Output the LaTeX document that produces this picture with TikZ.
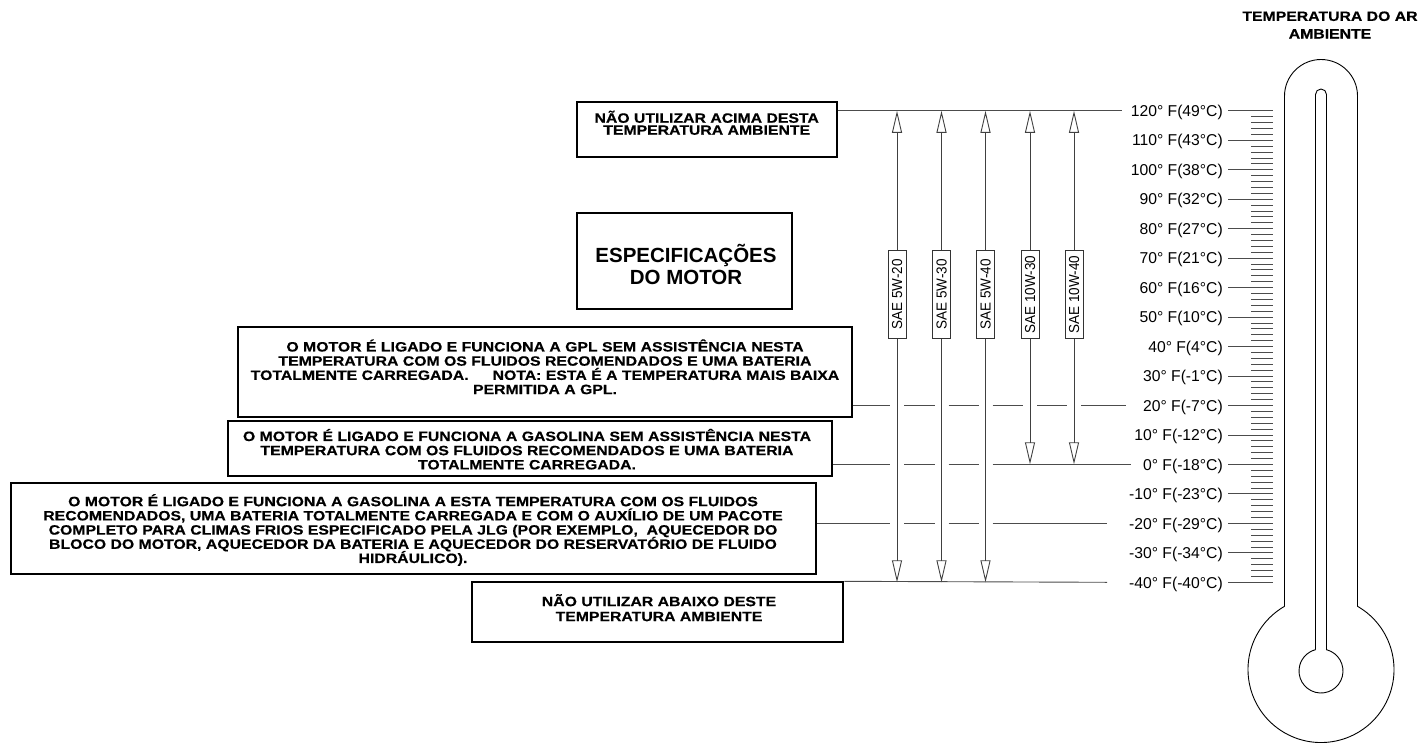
\documentclass[tikz,border=0pt]{standalone}
\usepackage{fontspec}
\setmainfont{Liberation Sans}
\newfontfamily\bfam[FakeStretch=1.17,FakeBold=0.5]{Liberation Sans}
\newfontfamily\cfam[FakeStretch=0.93]{Liberation Sans}
\newfontfamily\rfam{Liberation Sans}
\newcommand\tightls{\lineskiplimit=-20pt\relax}
\usetikzlibrary{arrows.meta,calc}
\begin{document}
\begin{tikzpicture}[x=1pt,y=-1pt,
 box/.style={draw=black,line width=2pt,inner sep=0pt},
 btxt/.style={font={\bfam\bfseries\fontsize{13.5}{14.2}\selectfont\tightls},align=center,inner sep=0pt},
 bigtxt/.style={font={\rfam\bfseries\fontsize{20.5}{21.7}\selectfont\tightls},align=center,inner sep=0pt},
 titletxt/.style={font={\bfam\bfseries\fontsize{13.5}{17.6}\selectfont},align=center,inner sep=0pt},
 sae/.style={draw=black!80,line width=0.8pt,rotate=90,minimum width=88pt,minimum height=18pt,inner sep=0pt,font={\cfam\fontsize{14.5}{15}\selectfont}},
 lbl/.style={font={\rfam\fontsize{15.7}{16}\selectfont},inner sep=0pt,anchor=base east},
 hl/.style={draw=black!70,line width=0.9pt},
 arr/.style={draw=black!75,line width=0.9pt,-{Triangle[open,length=22pt,width=10pt]}},
 tick/.style={draw=black!70,line width=0.9pt},
 thermo/.style={draw=black,line width=0.9pt}]
\useasboundingbox (0,0) rectangle (1421,744);

% boxes
\node[box,minimum width=260pt,minimum height=55.6pt] (A) at (706.7,129.5) {};
\node[box,minimum width=215pt,minimum height=96pt] (B) at (684.2,261.3) {};
\node[box,minimum width=614.3pt,minimum height=90pt] (C) at (544.9,372.3) {};
\node[box,minimum width=604.3pt,minimum height=55pt] (D) at (530,448.5) {};
\node[box,minimum width=805pt,minimum height=91pt] (E) at (413.5,528.8) {};
\node[box,minimum width=371.6pt,minimum height=59.4pt] (F) at (657.5,612) {};

% box texts
\node[btxt,font={\bfam\bfseries\fontsize{13.5}{12}\selectfont\tightls}] (At) at (706.7,122.8) {NÃO UTILIZAR ACIMA DESTA\\TEMPERATURA AMBIENTE};
\node[bigtxt] (Bt) at (686,264.5) {ESPECIFICAÇÕES\\DO MOTOR};
\node[btxt] (Ct) at (545,366.8) {O MOTOR É LIGADO E FUNCIONA A GPL SEM ASSISTÊNCIA NESTA\\TEMPERATURA COM OS FLUIDOS RECOMENDADOS E UMA BATERIA\\TOTALMENTE CARREGADA.\hspace{24pt}NOTA: ESTA É A TEMPERATURA MAIS BAIXA\\PERMITIDA A GPL.};
\node[btxt] (Dt) at (527,449.2) {O MOTOR É LIGADO E FUNCIONA A GASOLINA SEM ASSISTÊNCIA NESTA\\TEMPERATURA COM OS FLUIDOS RECOMENDADOS E UMA BATERIA\\TOTALMENTE CARREGADA.};
\node[btxt] (Et) at (413,530) {O MOTOR É LIGADO E FUNCIONA A GASOLINA A ESTA TEMPERATURA COM OS FLUIDOS\\RECOMENDADOS, UMA BATERIA TOTALMENTE CARREGADA E COM O AUXÍLIO DE UM PACOTE\\COMPLETO PARA CLIMAS FRIOS ESPECIFICADO PELA JLG (POR EXEMPLO,\ \ AQUECEDOR DO\\BLOCO DO MOTOR, AQUECEDOR DA BATERIA E AQUECEDOR DO RESERVATÓRIO DE FLUIDO\\HIDRÁULICO).};
\node[btxt,font={\bfam\bfseries\fontsize{13.5}{15}\selectfont\tightls}] (Ft) at (659,607.7) {NÃO UTILIZAR ABAIXO DESTE\\TEMPERATURA AMBIENTE};

% title
\node[titletxt] (title) at (1330,25) {TEMPERATURA DO AR\\AMBIENTE};

% level coordinates
\coordinate (Ytop) at (0,110.8);
\coordinate (Y20) at (0,405.7);
\coordinate (Y0) at (0,464.3);
\coordinate (Ym20) at (0,523.2);
\coordinate (Ybot) at (0,582.3);
\coordinate (E120) at (1122,110.8);
\coordinate (E20) at (1126,405.7);
\coordinate (E0) at (1131,464.3);
\coordinate (Em20) at (1107,523.2);
\coordinate (Em40) at (1107,582.3);

% SAE boxes
\foreach \xx/\tt [count=\i] in {897/5W-20,941.5/5W-30,985.5/5W-40,1030/10W-30,1074/10W-40}
  \node[sae] (S\i) at (\xx,294.5) {SAE \tt};

% arrows
\foreach \i in {1,...,5} \draw[arr] (S\i.east) -- (S\i.east |- Ytop);
\foreach \i in {1,2,3} \draw[arr] (S\i.west) -- (S\i.west |- Ybot);
\foreach \i in {4,5} \draw[arr] (S\i.west) -- (S\i.west |- Y0);

% horizontal lines
\draw[hl] (A.east |- Ytop) -- (E120);
\draw[hl] (C.east |- Y20) -- ($(S1|-Y20)+(-7,0)$)
  ($(S1|-Y20)+(7,0)$) -- ($(S2|-Y20)+(-7,0)$)
  ($(S2|-Y20)+(7,0)$) -- ($(S3|-Y20)+(-7,0)$)
  ($(S3|-Y20)+(7,0)$) -- ($(S4|-Y20)+(-7,0)$)
  ($(S4|-Y20)+(7,0)$) -- ($(S5|-Y20)+(-7,0)$)
  ($(S5|-Y20)+(7,0)$) -- (E20);
\draw[hl] (D.east |- Y0) -- ($(S1|-Y0)+(-7,0)$)
  ($(S1|-Y0)+(7,0)$) -- ($(S2|-Y0)+(-7,0)$)
  ($(S2|-Y0)+(7,0)$) -- ($(S3|-Y0)+(-7,0)$)
  ($(S3|-Y0)+(7,0)$) -- (E0);
\draw[hl] (E.east |- Ym20) -- ($(S1|-Ym20)+(-7,0)$)
  ($(S1|-Ym20)+(7,0)$) -- ($(S2|-Ym20)+(-7,0)$)
  ($(S2|-Ym20)+(7,0)$) -- ($(S3|-Ym20)+(-7,0)$)
  ($(S3|-Ym20)+(7,0)$) -- (Em20);
\draw[hl] (F.north east) -- (Em40);

% temperature labels
\foreach \tf/\tc [count=\i] in {120/49,110/43,100/38,90/32,80/27,70/21,60/16,50/10,40/4,30/-1,20/-7,10/-12,0/-18,-10/-23,-20/-29,-30/-34,-40/-40} {
  \pgfmathsetmacro\yy{110.8+(120-\tf)*2.947}
  \node[lbl] (L\i) at (1223,\yy+5.7) {\tf{}° F(\tc{}°C)};
  \coordinate (T\i) at (1273,\yy);
  \draw[tick] (L\i.east |- T\i) ++(5,0) -- (T\i);
}
% scale ticks
\foreach \k in {0,...,80}
  \draw[tick] (1251,{110.8+\k*5.894}) -- (1273,{110.8+\k*5.894});

% thermometer
\draw[thermo] (1284.5,606.3) -- (1284.5,96) arc[start angle=180,end angle=360,radius=36.5] -- (1357.5,606.3) arc[start angle=-60,end angle=240,radius=73];
\draw[thermo] (1315.5,649.7) -- (1315.5,94.5) arc[start angle=180,end angle=360,radius=5.5] -- (1326.5,649.7) arc[start angle=-75.5,end angle=255.5,radius=22];
\end{tikzpicture}
\end{document}
